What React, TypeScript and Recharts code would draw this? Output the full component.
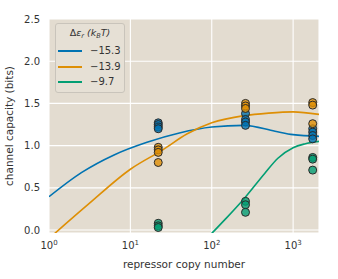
import React from 'react';
import { ComposedChart, Line, Scatter, XAxis, YAxis, CartesianGrid } from 'recharts';

// Theory curves (repressor copy number vs channel capacity in bits)
const blueCurveX = [1, 2.5, 6.3, 16, 40, 100, 250, 600, 1000, 2080];
const blueCurveY = [0.395, 0.68, 0.89, 1.04, 1.15, 1.22, 1.24, 1.17, 1.13, 1.11];
const orangeCurveX = [1, 3, 10, 25, 50, 100, 250, 500, 1000, 2080];
const orangeCurveY = [-0.1, 0.3, 0.72, 0.95, 1.14, 1.27, 1.355, 1.385, 1.4, 1.37];
const greenCurveX = [100, 144, 254, 447, 650, 1000, 1380, 2080];
const greenCurveY = [-0.04, 0.12, 0.38, 0.67, 0.85, 0.975, 1.02, 1.05];

// Experimental points
const blueDotsX = [22, 22, 22, 22, 260, 260, 260, 260, 1740, 1740, 1740, 1740];
const blueDotsY = [1.27, 1.25, 1.22, 1.2, 1.38, 1.31, 1.28, 1.24, 1.2, 1.16, 1.12, 1.08];
const orangeDotsX = [22, 22, 22, 22, 260, 260, 260, 1740, 1740, 1740];
const orangeDotsY = [0.98, 0.95, 0.92, 0.8, 1.5, 1.47, 1.44, 1.51, 1.48, 1.26];
const greenDotsX = [22, 22, 22, 260, 260, 260, 1740, 1740, 1740];
const greenDotsY = [0.08, 0.05, 0.03, 0.34, 0.3, 0.21, 0.86, 0.84, 0.71];

const seriesNames = ['\u221215.3', '\u221213.9', '\u22129.7'];
const lineColors = ['#0173B2', '#DE8F05', '#029E73'];
const xTicks = [1, 10, 100, 1000];
const yTicks = [0, 0.5, 1, 1.5, 2, 2.5];

const zip = (xs: number[], ys: number[]) => xs.map((x, i) => ({ x, y: ys[i] }));

const blueCurve = zip(blueCurveX, blueCurveY);
const orangeCurve = zip(orangeCurveX, orangeCurveY);
const greenCurve = zip(greenCurveX, greenCurveY);
const blueDots = zip(blueDotsX, blueDotsY);
const orangeDots = zip(orangeDotsX, orangeDotsY);
const greenDots = zip(greenDotsX, greenDotsY);

const FONT = '"DejaVu Sans", sans-serif';
const TXT = '#333';

const XTick = (props: any) => {
  const { x, y, payload } = props;
  const exp = Math.round(Math.log10(payload.value));
  return (
    <text x={x} y={y} dy="0.71em" textAnchor="middle" fontSize={10} fill={TXT} fontFamily={FONT}>
      10<tspan dy={-4} fontSize={7}>{exp}</tspan>
    </text>
  );
};

const YTick = (props: any) => {
  const { x, y, payload } = props;
  return (
    <text x={x} y={y} dy="0.355em" textAnchor="end" fontSize={10} fill={TXT} fontFamily={FONT}>
      {Number(payload.value).toFixed(1)}
    </text>
  );
};

const makeDot = (fill: string) => (props: any) => {
  const { cx, cy } = props;
  if (cx == null || cy == null) return null;
  return <circle cx={cx} cy={cy} r={4} fill={fill} fillOpacity={0.8} stroke="#2a2a2a" strokeWidth={1} />;
};

const LegendBox = () => (
  <div
    style={{
      position: 'absolute',
      left: 55,
      top: 23,
      width: 70,
      height: 70,
      border: '1px solid #c9c4bb',
      borderRadius: 3,
      background: '#E6E0D5',
      fontFamily: FONT,
      fontSize: 10,
      color: TXT,
      boxSizing: 'border-box',
    }}
  >
    <div style={{ position: 'absolute', top: 3, left: 0, width: 68, textAlign: 'center', fontStyle: 'italic', fontSize: 9.5, lineHeight: '12px' }}>
      <span style={{ fontStyle: 'normal' }}>{'\u0394'}</span>{'\u03b5'}<sub style={{ fontSize: 6.5, verticalAlign: '-2px' }}>r</sub>
      {' ('}k<sub style={{ fontSize: 6.5, verticalAlign: '-2px' }}>B</sub>T)
    </div>
    {seriesNames.map((name, i) => (
      <div key={name} style={{ position: 'absolute', left: 2, top: [21, 37, 52][i], height: 12, display: 'flex', alignItems: 'center' }}>
        <div style={{ width: 24, height: 1.6, background: lineColors[i] }} />
        <span style={{ marginLeft: 8, lineHeight: '12px' }}>{name}</span>
      </div>
    ))}
  </div>
);

export default function App() {
  return (
    <div style={{ position: 'absolute', left: 0, top: 0, width: 338, height: 279, background: '#fff' }}>
      <ComposedChart width={338} height={279} margin={{ top: 19, right: 19, left: 0, bottom: 0 }}>
        <CartesianGrid stroke="#ffffff" strokeWidth={1.1} fill="#E3DCD0" />
        <XAxis
          dataKey="x"
          type="number"
          scale="log"
          domain={[1, 2080]}
          ticks={xTicks}
          allowDataOverflow
          axisLine={false}
          tickLine={false}
          tickSize={0}
          tickMargin={9}
          height={46}
          tick={<XTick />}
          label={{ value: 'repressor copy number', position: 'insideBottom', offset: 11, fontSize: 10.5, fill: TXT, fontFamily: FONT }}
        />
        <YAxis
          dataKey="y"
          type="number"
          domain={[-0.035, 2.5]}
          ticks={yTicks}
          allowDataOverflow
          axisLine={false}
          tickLine={false}
          tickSize={0}
          tickMargin={9}
          width={49}
          tick={<YTick />}
          label={{ value: 'channel capacity (bits)', angle: -90, position: 'insideLeft', offset: 9, fontSize: 10.5, fill: TXT, fontFamily: FONT, style: { textAnchor: 'middle' } }}
        />
        <Line data={blueCurve} dataKey="y" name={seriesNames[0]} type="monotone" stroke={lineColors[0]} strokeWidth={1.6} dot={false} isAnimationActive={false} />
        <Line data={orangeCurve} dataKey="y" name={seriesNames[1]} type="monotone" stroke={lineColors[1]} strokeWidth={1.6} dot={false} isAnimationActive={false} />
        <Line data={greenCurve} dataKey="y" name={seriesNames[2]} type="monotone" stroke={lineColors[2]} strokeWidth={1.6} dot={false} isAnimationActive={false} />
        <Scatter data={blueDots} dataKey="y" fill={lineColors[0]} shape={makeDot(lineColors[0])} isAnimationActive={false} />
        <Scatter data={orangeDots} dataKey="y" fill={lineColors[1]} shape={makeDot(lineColors[1])} isAnimationActive={false} />
        <Scatter data={greenDots} dataKey="y" fill={lineColors[2]} shape={makeDot(lineColors[2])} isAnimationActive={false} />
      </ComposedChart>
      <LegendBox />
    </div>
  );
}
